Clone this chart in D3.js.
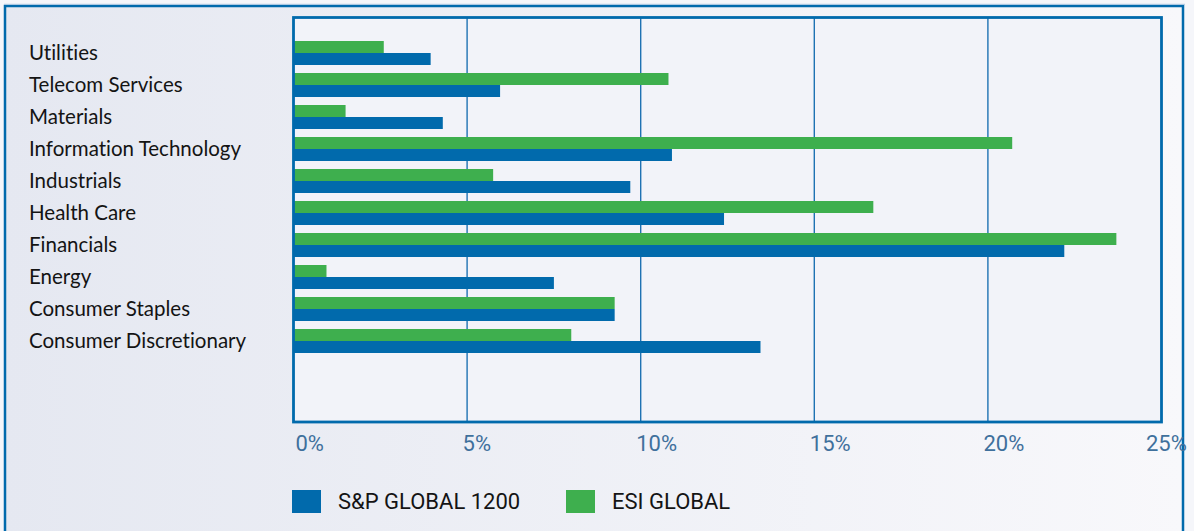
<!DOCTYPE html>
<html>
<head>
<meta charset="utf-8">
<script src="https://cdn.jsdelivr.net/npm/d3@7"></script>
<style>
  html, body { margin: 0; padding: 0; background: #f4f5fa; }
  svg { display: block; }
  text { font-variant-ligatures: none; font-feature-settings: "liga" 0, "clig" 0; }
</style>
</head>
<body>
<svg id="chart" width="1194" height="531"></svg>
<script>
// ---- Data ----
const categories = [
  "Utilities",
  "Telecom Services",
  "Materials",
  "Information Technology",
  "Industrials",
  "Health Care",
  "Financials",
  "Energy",
  "Consumer Staples",
  "Consumer Discretionary"
];
const seriesNames = ["S&P GLOBAL 1200", "ESI GLOBAL"];
const spGlobal1200 = [3.95, 5.95, 4.3, 10.9, 9.7, 12.4, 22.2, 7.5, 9.25, 13.45];
const esiGlobal    = [2.6, 10.8, 1.5, 20.7, 5.75, 16.7, 23.7, 0.95, 9.25, 8.0];
const tickValues = [0, 5, 10, 15, 20, 25];
const tickLabels = ["0%", "5%", "10%", "15%", "20%", "25%"];

// ---- Styles ----
const BLUE = "#016aac";
const GREEN = "#3eaf4e";
const FONT = "Roboto, 'Liberation Sans', sans-serif";
const CAT_FONT = "Lato, Roboto, sans-serif";

const svg = d3.select("#chart");
const W = 1194, H = 531;

// background gradient
const defs = svg.append("defs");
const grad = defs.append("linearGradient").attr("id", "bg").attr("x1", 0).attr("x2", 1).attr("y1", 0).attr("y2", 0);
grad.append("stop").attr("offset", "0%").attr("stop-color", "#e5e8f1");
grad.append("stop").attr("offset", "100%").attr("stop-color", "#f8f8fb");

svg.append("rect").attr("width", W).attr("height", H).attr("fill", "#f5f6fa");
// outer frame
svg.append("rect").attr("x", 5).attr("y", 6).attr("width", 1178).attr("height", 540)
  .attr("fill", "url(#bg)").attr("stroke", BLUE).attr("stroke-width", 2.5);
svg.append("line").attr("x1", 4).attr("x2", 1185).attr("y1", 4.3).attr("y2", 4.3)
  .attr("stroke", "#a9c6e2").attr("stroke-width", 1);

// plot area
const plot = { left: 293.5, right: 1161.5, top: 17.5, bottom: 422 };
svg.append("rect").attr("x", plot.left).attr("y", plot.top)
  .attr("width", plot.right - plot.left).attr("height", plot.bottom - plot.top)
  .attr("fill", "#f2f3f9");

const x = d3.scaleLinear().domain([0, 25]).range([plot.left, plot.right]);
const y = d3.scaleBand().domain(categories).range([37, 357]).paddingInner(0.25).paddingOuter(0.125);
const ySub = d3.scaleBand().domain(["ESI GLOBAL", "S&P GLOBAL 1200"]).range([0, y.bandwidth()]);

// gridlines
svg.append("g").selectAll("line").data(tickValues.filter(v => v > 0 && v < 25)).join("line")
  .attr("x1", d => x(d)).attr("x2", d => x(d))
  .attr("y1", plot.top).attr("y2", plot.bottom)
  .attr("stroke", "#1f72b3").attr("stroke-width", 1.4);

// bars
const rows = categories.map((c, i) => ({ cat: c, sp: spGlobal1200[i], esi: esiGlobal[i] }));
const g = svg.append("g");
g.selectAll("rect.esi").data(rows).join("rect").attr("class", "esi")
  .attr("x", x(0)).attr("y", d => y(d.cat) + ySub("ESI GLOBAL"))
  .attr("width", d => x(d.esi) - x(0)).attr("height", ySub.bandwidth())
  .attr("fill", GREEN);
g.selectAll("rect.sp").data(rows).join("rect").attr("class", "sp")
  .attr("x", x(0)).attr("y", d => y(d.cat) + ySub("S&P GLOBAL 1200"))
  .attr("width", d => x(d.sp) - x(0)).attr("height", ySub.bandwidth())
  .attr("fill", BLUE);

// plot border
svg.append("rect").attr("x", plot.left).attr("y", plot.top)
  .attr("width", plot.right - plot.left).attr("height", plot.bottom - plot.top)
  .attr("fill", "none").attr("stroke", BLUE).attr("stroke-width", 2.8);

// category labels
svg.append("g").selectAll("text").data(categories).join("text")
  .attr("x", 29).attr("y", d => y(d) + y.bandwidth() / 2)
  .attr("dy", "0.36em")
  .attr("font-family", CAT_FONT).attr("font-size", 20.5).attr("fill", "#141414")
  .text(d => d);

// x axis labels
const xAxis = d3.axisBottom(x).tickValues(tickValues).tickSize(0)
  .tickFormat((d, i) => tickLabels[i]);
const ax = svg.append("g").attr("transform", `translate(0,${plot.bottom})`).call(xAxis);
ax.select(".domain").remove();
ax.selectAll("text")
  .attr("font-family", FONT).attr("font-size", 22).attr("fill", "#3f709c")
  .attr("text-anchor", "start")
  .attr("y", 13)
  .attr("dx", (d, i) => i === 0 ? 1.5 : (i === tickValues.length - 1 ? -16 : -5));

// legend
const legendItems = [
  { name: seriesNames[0], color: BLUE, x: 292 },
  { name: seriesNames[1], color: GREEN, x: 566 }
];
const lg = svg.append("g");
lg.selectAll("rect").data(legendItems).join("rect")
  .attr("x", d => d.x).attr("y", 490).attr("width", 29).attr("height", 23)
  .attr("fill", d => d.color);
lg.selectAll("text").data(legendItems).join("text")
  .attr("x", d => d.x + 46).attr("y", 509)
  .attr("font-family", FONT).attr("font-size", 22).attr("fill", "#141414")
  .text(d => d.name);
</script>
</body>
</html>
